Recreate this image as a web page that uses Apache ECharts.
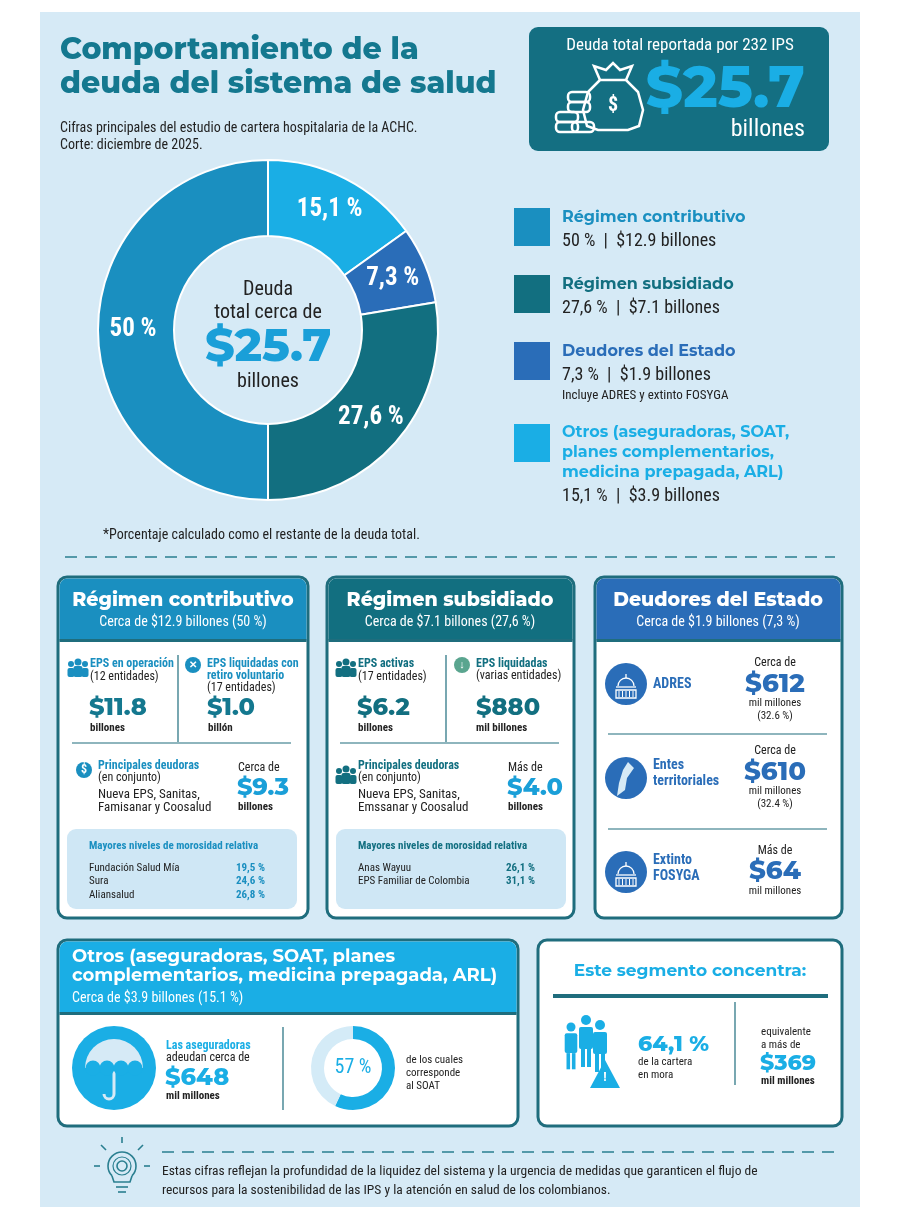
<!DOCTYPE html>
<html><head><meta charset="utf-8">
<script src="https://cdn.jsdelivr.net/npm/echarts@6/dist/echarts.min.js"></script>
<style>html,body{margin:0;padding:0;background:#fff}#c{width:900px;height:1219px}</style>
</head><body><div id="c"></div>
<script>
var categories = ['Otros', 'Deudores del Estado', 'Régimen subsidiado', 'Régimen contributivo'];
var shareValues = [15.1, 7.3, 27.6, 50];
var shareLabels = ['15,1 %', '7,3 %', '27,6 %', '50 %'];
var soatValues = [57, 43];

var C = {bg:'#d6eaf6', teal:'#14788f', contrib:'#1a8fc0', subs:'#126f80', estado:'#2a6db8', otros:'#1aaee5', border:'#1f6d7d', dark:'#222'};
var sliceColors = [C.otros, C.estado, C.subs, C.contrib];
var F = "'Roboto Condensed','Liberation Sans Narrow','Roboto',sans-serif";
var FT = "'Montserrat','Open Sans','Lato',sans-serif";
var G = [];
function T(x,y,t,s,c,w,a,f){G.push({type:'text',x:x,y:y,z:10,style:{text:t,fontSize:s,fill:c||C.dark,fontWeight:w||'normal',textAlign:a||'left',textVerticalAlign:'middle',fontFamily:f||F}});}
function R(x,y,w,h,fill,r,stroke,lw,z){G.push({type:'rect',z:z||2,shape:{x:x,y:y,width:w,height:h,r:r||0},style:{fill:fill||'none',stroke:stroke||null,lineWidth:lw||0}});}
function L(x1,y1,x2,y2,c,lw,dash){G.push({type:'line',z:3,shape:{x1:x1,y1:y1,x2:x2,y2:y2},style:{stroke:c,lineWidth:lw||1,lineDash:dash||null}});}
function Ci(x,y,r,fill,z){G.push({type:'circle',z:z||5,shape:{cx:x,cy:y,r:r},style:{fill:fill}});}
function CiS(x,y,r,stroke,lw){G.push({type:'circle',z:6,shape:{cx:x,cy:y,r:r},style:{fill:'none',stroke:stroke,lineWidth:lw}});}
function PG(pts,fill,z){G.push({type:'polygon',z:z||6,shape:{points:pts},style:{fill:fill}});}
function PL(pts,stroke,lw,z){G.push({type:'polyline',z:z||6,shape:{points:pts},style:{stroke:stroke,lineWidth:lw,fill:null}});}
function SEC(cx,cy,r,s,e,fill,z){G.push({type:'sector',z:z||6,shape:{cx:cx,cy:cy,r0:0,r:r,startAngle:s,endAngle:e},style:{fill:fill}});}

// background
R(40,12,820,1195,C.bg,0,null,0,0);
// title
T(60,50,'Comportamiento de la',30,C.teal,'800','left',FT);
T(60,84,'deuda del sistema de salud',30,C.teal,'800','left',FT);
T(60,128,'Cifras principales del estudio de cartera hospitalaria de la ACHC.',14);
T(60,145,'Corte: diciembre de 2025.',14);
// top right box
R(529,27,300,124,'#146f82',9);
T(680,46,'Deuda total reportada por 232 IPS',17,'#fff','normal','center');
T(805,90,'$25.7',58,C.otros,'800','right',FT);
T(805,130,'billones',24,'#fff','normal','right');
// bag icon
PL([[600,80],[588,92],[583,110],[587,126],[598,130],[628,130],[639,126],[643,110],[638,92],[626,80],[600,80]],'#fff',2.5);
PL([[600,80],[594,66],[606,70],[613,63],[620,70],[632,66],[626,80]],'#fff',2.5);
T(613,106,'$',20,'#fff','bold','center');
R(556,112,22,10,'none',4,'#fff',2.5,6);R(556,122,22,10,'none',4,'#fff',2.5,6);
R(568,92,22,10,'none',4,'#fff',2.5,6);R(568,102,22,10,'none',4,'#fff',2.5,6);R(572,122,22,10,'none',4,'#fff',2.5,6);

// donut center text
Ci(268,330,94,'#d9edf8',1);
T(268,290,'Deuda',20,C.dark,'normal','center');
T(268,313,'total cerca de',20,C.dark,'normal','center');
T(268,347,'$25.7',46,'#1a9fd8','800','center',FT);
T(268,382,'billones',20,C.dark,'normal','center');

// legend
var lg=[[208,'Régimen contributivo',C.contrib,'50 %  |  $12.9 billones'],[275,'Régimen subsidiado',C.subs,'27,6 %  |  $7.1 billones'],[342,'Deudores del Estado',C.estado,'7,3 %  |  $1.9 billones']];
lg.forEach(function(l){R(514,l[0],36,38,l[2]);T(562,l[0]+9,l[1],16,l[2],'bold','left',FT);T(562,l[0]+33,l[3],18);});
T(562,396,'Incluye ADRES y extinto FOSYGA',13);
R(514,424,36,38,C.otros);
T(562,432,'Otros (aseguradoras, SOAT,',16,C.otros,'bold','left',FT);
T(562,452,'planes complementarios,',16,C.otros,'bold','left',FT);
T(562,472,'medicina prepagada, ARL)',16,C.otros,'bold','left',FT);
T(562,496,'15,1 %  |  $3.9 billones',18);
T(103,535,'*Porcentaje calculado como el restante de la deuda total.',14);
L(65,557,835,557,'#2a7f90',1.5,[12,8]);

function card(x,y,w,h,hh,hc){R(x,y,w,h,'#fff',9,C.border,3);G.push({type:'rect',z:3,shape:{x:x+1.5,y:y+1.5,width:w-3,height:hh,r:[8,8,0,0]},style:{fill:hc}});L(x+1.5,y+hh+1.5,x+w-1.5,y+hh+1.5,C.border,3);}
function people(x,y,c){Ci(x,y,3,c,7);Ci(x+7,y-2,3.5,c,7);Ci(x+14,y,3,c,7);R(x-3.5,y+4,7,9,c,2,null,0,7);R(x+2.5,y+2,9,11,c,2,null,0,7);R(x+10.5,y+4,7,9,c,2,null,0,7);}

// card 1
card(58,577,250,341,62,C.contrib);
T(183,600,'Régimen contributivo',19,'#fff','800','center',FT);
T(183,622,'Cerca de $12.9 billones (50 %)',14,'#fff','normal','center');
people(71,664,C.contrib);
T(90,664,'EPS en operación',12,C.contrib,'bold');T(90,677,'(12 entidades)',12);
T(89,708,'$11.8',24,C.teal,'800','left',FT);T(90,728,'billones',11,C.dark,'bold');
L(178,655,178,742,C.border,1.2);
Ci(193,665,8,C.contrib);T(193,665,'✕',10,'#fff','bold','center');
T(207,664,'EPS liquidadas con',12,C.contrib,'bold');T(207,676,'retiro voluntario',12,C.contrib,'bold');T(207,688,'(17 entidades)',12);
T(207,708,'$1.0',24,C.teal,'800','left',FT);T(208,728,'billón',11,C.dark,'bold');
L(72,743,291,743,C.border,1.2);
Ci(84,770,8,C.contrib);T(84,770,'$',12,'#fff','bold','center');
T(98,766,'Principales deudoras',12,C.contrib,'bold');T(98,778,'(en conjunto)',12);
T(98,795,'Nueva EPS, Sanitas,',13);T(98,808,'Famisanar y Coosalud',13);
T(238,768,'Cerca de',12);T(237,788,'$9.3',24,'#1a9fd8','800','left',FT);T(238,807,'billones',11,C.dark,'bold');
R(67,829,230,80,'#cfe7f5',9,null,0,4);
T(89,846,'Mayores niveles de morosidad relativa',11,C.contrib,'bold');
[['Fundación Salud Mía','19,5 %'],['Sura','24,6 %'],['Aliansalud','26,8 %']].forEach(function(r,i){T(89,868+i*13.5,r[0],11);T(236,868+i*13.5,r[1],11,C.contrib,'bold');});

// card 2
card(327,577,247,341,62,C.subs);
T(450,600,'Régimen subsidiado',19,'#fff','800','center',FT);
T(450,622,'Cerca de $7.1 billones (27,6 %)',14,'#fff','normal','center');
people(339,664,C.subs);
T(358,664,'EPS activas',12,C.subs,'bold');T(358,677,'(17 entidades)',12);
T(357,708,'$6.2',24,C.subs,'800','left',FT);T(358,728,'billones',11,C.dark,'bold');
L(446,655,446,742,C.border,1.2);
Ci(462,665,8,'#5aa58f');T(462,665,'↓',11,'#fff','bold','center');
T(476,664,'EPS liquidadas',12,C.subs,'bold');T(476,676,'(varias entidades)',12);
T(476,708,'$880',24,C.subs,'800','left',FT);T(476,728,'mil billones',11,C.dark,'bold');
L(340,743,559,743,C.border,1.2);
people(339,771,C.subs);
T(358,766,'Principales deudoras',12,C.subs,'bold');T(358,778,'(en conjunto)',12);
T(358,795,'Nueva EPS, Sanitas,',13);T(358,808,'Emssanar y Coosalud',13);
T(508,768,'Más de',12);T(507,788,'$4.0',24,'#1a9fd8','800','left',FT);T(508,807,'billones',11,C.dark,'bold');
R(336,829,230,80,'#cfe7f5',9,null,0,4);
T(358,846,'Mayores niveles de morosidad relativa',11,C.subs,'bold');
[['Anas Wayuu','26,1 %'],['EPS Familiar de Colombia','31,1 %']].forEach(function(r,i){T(358,868+i*13.5,r[0],11);T(506,868+i*13.5,r[1],11,C.subs,'bold');});

// card 3
card(595,577,247,341,62,C.estado);
T(718,600,'Deudores del Estado',19,'#fff','800','center',FT);
T(718,622,'Cerca de $1.9 billones (7,3 %)',14,'#fff','normal','center');
function dome(cx,cy){Ci(cx,cy,21,C.estado);
  G.push({type:'arc',z:7,shape:{cx:cx,cy:cy+2,r:8,startAngle:Math.PI,endAngle:2*Math.PI},style:{stroke:'#fff',lineWidth:1.3,fill:null}});
  L(cx-10,cy+3,cx+10,cy+3,'#fff',1.3);G[G.length-1].z=7;
  L(cx,cy-6,cx,cy-10,'#fff',1.3);G[G.length-1].z=7;
  R(cx-10,cy+6,20,8,'none',0,'#fff',1.3,7);
  for(var k=-7;k<=7;k+=3.5){L(cx+k,cy+7,cx+k,cy+13,'#fff',1);G[G.length-1].z=7;}
}
dome(626,684);
Ci(626,778,21,C.estado);PG([[628,762],[634,768],[627,778],[625,790],[617,796],[619,783],[623,770]],'#d6eaf6',7);
dome(626,872);
T(653,684,'ADRES',14,C.estado,'bold');
T(775,663,'Cerca de',12,C.dark,'normal','center');T(775,684,'$612',26,C.estado,'800','center',FT);T(775,703,'mil millones',11,C.dark,'normal','center');T(775,716,'(32.6 %)',11,C.dark,'normal','center');
L(608,734,827,734,C.border,1.2);
T(653,765,'Entes',14,C.estado,'bold');T(653,781,'territoriales',14,C.estado,'bold');
T(775,751,'Cerca de',12,C.dark,'normal','center');T(775,772,'$610',26,C.estado,'800','center',FT);T(775,791,'mil millones',11,C.dark,'normal','center');T(775,804,'(32.4 %)',11,C.dark,'normal','center');
L(608,829,827,829,C.border,1.2);
T(653,860,'Extinto',14,C.estado,'bold');T(653,876,'FOSYGA',14,C.estado,'bold');
T(775,851,'Más de',12,C.dark,'normal','center');T(775,871,'$64',26,C.estado,'800','center',FT);T(775,891,'mil millones',11,C.dark,'normal','center');

// card 4
card(58,940,460,186,72,C.otros);
T(72,957,'Otros (aseguradoras, SOAT, planes',18,'#fff','bold','left',FT);
T(72,976,'complementarios, medicina prepagada, ARL)',18,'#fff','bold','left',FT);
T(72,998,'Cerca de $3.9 billones (15.1 %)',14,'#fff');
Ci(114,1068,42,C.otros);
SEC(114,1068,29,Math.PI,2*Math.PI,'#d6eaf6',7);
Ci(93,1068,7.5,C.otros,8);Ci(107,1068,7.5,C.otros,8);Ci(121,1068,7.5,C.otros,8);Ci(135,1068,7.5,C.otros,8);
PL([[114,1064],[114,1094]],'#d6eaf6',3,7);
G.push({type:'arc',z:7,shape:{cx:109,cy:1094,r:5,startAngle:0,endAngle:Math.PI},style:{stroke:'#d6eaf6',lineWidth:3,fill:null}});
T(166,1046,'Las aseguradoras',12,C.otros,'bold');T(166,1058,'adeudan cerca de',12);
T(165,1078,'$648',24,C.otros,'800','left',FT);T(166,1096,'mil millones',11,C.dark,'bold');
L(283,1027,283,1110,C.border,1.2);
T(353,1068,'57 %',20,C.otros,'normal','center');
T(406,1060,'de los cuales',11);T(406,1073,'corresponde',11);T(406,1086,'al SOAT',11);

// card 5
R(538,940,304,186,'#fff',9,C.border,3);
T(690,971,'Este segmento concentra:',17,C.otros,'bold','center',FT);
L(553,996,828,996,C.border,4);
function fig(x,y,s){Ci(x,y,5*s,C.otros,6);R(x-7*s,y+7*s,14*s,22*s,C.otros,2,null,0,6);R(x-5*s,y+29*s,4*s,18*s,C.otros,0,null,0,6);R(x+1*s,y+29*s,4*s,18*s,C.otros,0,null,0,6);}
fig(571,1027,0.9);fig(600,1025,1);fig(586,1020,1);
PG([[605,1060],[620,1088],[590,1088]],C.otros,7);T(605,1078,'!',13,'#fff','bold','center');
T(638,1045,'64,1 %',22,C.otros,'800','left',FT);T(638,1062,'de la cartera',11);T(638,1075,'en mora',11);
L(735,1002,735,1085,C.border,1.2);
T(761,1032,'equivalente',11);T(761,1045,'a más de',11);T(760,1064,'$369',22,C.otros,'800','left',FT);T(761,1081,'mil millones',11,C.dark,'bold');

// footer
L(162,1152,835,1152,'#2a7f90',1.5,[12,8]);
G.push({type:'arc',z:6,shape:{cx:122,cy:1166,r:14,startAngle:Math.PI*0.75,endAngle:Math.PI*2.25},style:{stroke:'#2a7f90',lineWidth:1.6,fill:null}});
PL([[112,1176],[114,1182],[130,1182],[132,1176]],'#2a7f90',1.6);
L(116,1187,128,1187,'#2a7f90',1.6);L(118,1192,126,1192,'#2a7f90',1.6);
L(122,1143,122,1137,'#2a7f90',1.6);L(106,1150,101,1145,'#2a7f90',1.6);L(138,1150,143,1145,'#2a7f90',1.6);
L(100,1166,94,1166,'#2a7f90',1.6);L(144,1166,150,1166,'#2a7f90',1.6);
CiS(122,1166,5,'#2a7f90',1.6);CiS(122,1166,9,'#2a7f90',1.2);
T(162,1172,'Estas cifras reflejan la profundidad de la liquidez del sistema y la urgencia de medidas que garanticen el flujo de',13.5);
T(162,1191,'recursos para la sostenibilidad de las IPS y la atención en salud de los colombianos.',13.5);

var chart = echarts.init(document.getElementById('c'));
chart.setOption({
  animation:false,
  graphic:{elements:G},
  series:[
    {type:'pie',z:4,center:[268,330],radius:[94,170],startAngle:90,clockwise:true,silent:true,
     itemStyle:{borderColor:'#fff',borderWidth:2},
     label:{position:'inside',color:'#fff',fontSize:25,fontWeight:'bold',fontFamily:F,formatter:function(p){return shareLabels[p.dataIndex];}},
     labelLine:{show:false},
     data:categories.map(function(c,i){return {name:c,value:shareValues[i],itemStyle:{color:sliceColors[i]}};})},
    {type:'pie',z:4,center:[353,1068],radius:[29,42],startAngle:90,clockwise:true,silent:true,label:{show:false},
     data:[{name:'SOAT',value:soatValues[0],itemStyle:{color:C.otros}},{name:'Resto',value:soatValues[1],itemStyle:{color:'#d4ebf7'}}]}
  ]
});
</script></body></html>
